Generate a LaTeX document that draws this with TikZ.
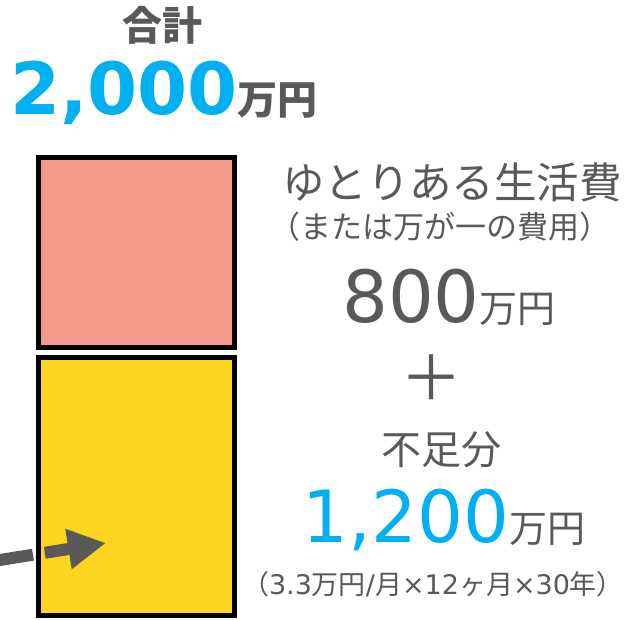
\documentclass[tikz,border=0pt]{standalone}
\usepackage{fontspec}
\usepackage{tikz}
\usetikzlibrary{arrows.meta,positioning}
\usepackage{xcolor}
\newfontfamily\jpfont{Noto Sans CJK JP}
\newfontfamily\numfont{DejaVu Sans}
\newcommand{\fsz}[1]{\fontsize{#1}{#1}\selectfont}
\definecolor{txtgray}{HTML}{595959}
\definecolor{sumblue}{HTML}{00B0F0}
\definecolor{extrapink}{HTML}{F5998B}
\definecolor{shortyellow}{HTML}{FDD41E}

\begin{document}
\begin{tikzpicture}[x=1pt,y=1pt,
	txt/.style={inner sep=0pt,text=txtgray,font=\jpfont},
	block/.style={draw=black,line width=5pt,inner sep=0pt,minimum width=195.5pt},
	bigarrow/.style={draw=txtgray,line width=12pt,dash pattern=on 60pt off 12pt,-{Triangle[length=38pt,width=38pt]}}]
\clip (0,0) rectangle (633,-620);

\node[block,fill=extrapink,minimum height=190pt] (extra) at (136.25,-252.5) {};
\node[block,fill=shortyellow,minimum height=258pt] (short) at (136.25,-486.5) {};

\node[txt,font=\jpfont\bfseries\fsz{40}] (total) at (162,-25) {合計};
\node[txt,anchor=base] (totalsum) at (164,-115) {{\numfont\bfseries\fsz{72}\color{sumblue}2,000}{\jpfont\bfseries\fsz{40}万円}};

\node[txt,font=\jpfont\fsz{42.5}] (extratitle) at (452,-182) {ゆとりある生活費};
\node[txt,font=\jpfont\fsz{31}] (extranote) at (440,-227) {（または万が一の費用）};
\node[txt,anchor=base] (extrasum) at (449,-323) {{\numfont\fsz{72}800}{\jpfont\fsz{38}万円}};
\node[txt,font=\jpfont\fsz{62}] (plus) at (431,-378) {＋};
\node[txt,font=\jpfont\fsz{40}] (shorttitle) at (441,-450) {不足分};
\node[txt,anchor=base] (shortsum) at (444,-543) {{\numfont\fsz{72}\color{sumblue}1,200}{\jpfont\fsz{38}万円}};
\node[txt,font=\fsz{27}] (shortnote) at (433,-584) {{\jpfont （}{\numfont 3.3}{\jpfont 万円}{\numfont /}{\jpfont 月}{\numfont ×12}{\jpfont ヶ月}{\numfont ×30}{\jpfont 年）}};

\coordinate (arrowstart) at (-26.3,-564.2);
\coordinate (arrowtip) at (106,-543);
\draw[bigarrow] (arrowstart) -- (arrowtip);
\end{tikzpicture}
\end{document}
